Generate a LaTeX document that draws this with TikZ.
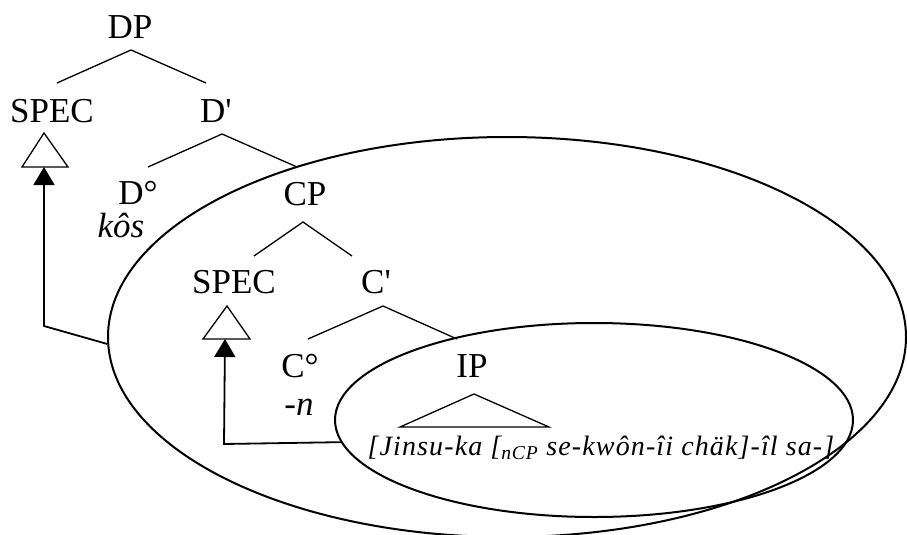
\documentclass[tikz,border=0pt]{standalone}
\usepackage{fontspec}
\setmainfont{Liberation Serif}[Ligatures=TeXOff]
\usetikzlibrary{arrows.meta,shapes.geometric}
\begin{document}
\begin{tikzpicture}[x=1pt,y=-1pt,
  lab/.style={font=\fontsize{35}{40}\selectfont, inner sep=0pt, anchor=base},
  ital/.style={font=\fontsize{35}{40}\selectfont\itshape, inner sep=0pt, anchor=base},
  branch/.style={line width=1.3pt},
  tri/.style={line width=1.3pt, line join=miter},
  circ/.style={draw, ellipse, line width=2pt, inner sep=0pt},
  move/.style={line width=1.8pt, -{Triangle[length=18pt,width=21pt]}}]
\useasboundingbox (0,0) rectangle (907,535);
% ellipses
\node[circ, minimum width=798pt, minimum height=400pt] (bigE) at (507,337) {};
\node[circ, minimum width=518pt, minimum height=194pt] (smallE) at (594,420) {};
% labels
\node[lab] (DP) at (130,38) {DP};
\node[lab] (SPECa) at (52,122) {SPEC};
\node[lab] (Dbar) at (216,122) {D'};
\node[lab] (Dzero) at (138,204) {D°};
\node[ital] (kos) at (121,237) {kôs};
\node[lab] (CP) at (305,205) {CP};
\node[lab] (SPECb) at (234,293) {SPEC};
\node[lab] (Cbar) at (376,293) {C'};
\node[lab] (Czero) at (300,377) {C°};
\node[ital] (n) at (299,415) {-n};
\node[lab] (IP) at (472,377) {IP};
\node[font=\fontsize{28}{32}\selectfont\itshape\addfontfeature{LetterSpace=4}, inner sep=0pt, anchor=base] (str) at (601,455)
  {[Jinsu-ka [\textsubscript{nCP} se-kwôn-îi chäk]-îl sa-]};
% branch points
\coordinate (dpA) at (131,50);
\coordinate (dpL) at (57,83);
\coordinate (dpR) at (206,83);
\coordinate (dbA) at (222,134);
\coordinate (dbL) at (148,167);
\coordinate (dbR) at (297,167);
\coordinate (cpA) at (303,222);
\coordinate (cpL) at (254,256);
\coordinate (cpR) at (352,256);
\coordinate (cbA) at (383,306);
\coordinate (cbL) at (308,339);
\coordinate (cbR) at (457,339);
\draw[branch] (dpL) -- (dpA) -- (dpR);
\draw[branch] (dbL) -- (dbA) -- (dbR);
\draw[branch] (cpL) -- (cpA) -- (cpR);
\draw[branch] (cbL) -- (cbA) -- (cbR);
% triangles
\coordinate (t1) at (44,167);
\coordinate (t2) at (225,339);
\draw[tri] (22,167) -- (44,133) -- (68,167) -- cycle;
\draw[tri] (203,339) -- (227,306) -- (250,339) -- cycle;
\draw[tri] (400,427) -- (474,394) -- (549,427) -- cycle;
% movement arrows
\coordinate (b1) at (44,326);
\coordinate (b2) at (224,444);
\draw[move] (bigE.181.4) -- (b1) -- (t1);
\draw[move] (smallE.185.5) -- (b2) -- (t2);
\end{tikzpicture}
\end{document}
